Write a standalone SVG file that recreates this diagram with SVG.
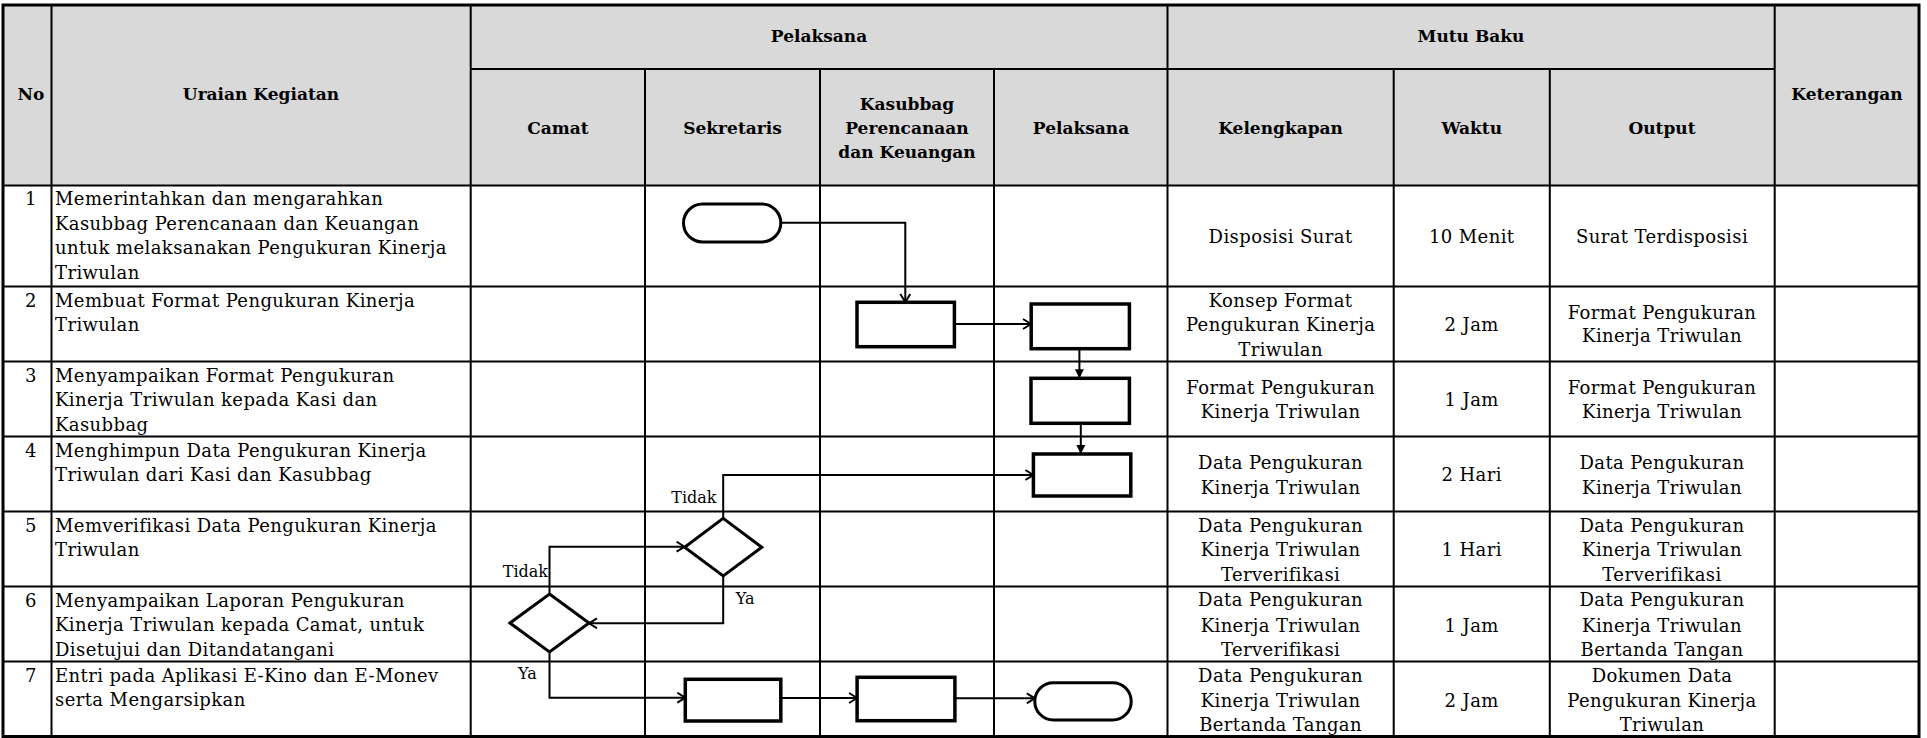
<svg xmlns="http://www.w3.org/2000/svg" width="1927" height="738" viewBox="0 0 1927 738">
<style>
.t{font-family:"DejaVu Serif","Liberation Serif",serif;font-size:18px;letter-spacing:0.4px;fill:#000}
.l{font-family:"DejaVu Serif","Liberation Serif",serif;font-size:16px;fill:#000}
.b{font-family:"DejaVu Serif","Liberation Serif",serif;font-size:17px;font-weight:bold;fill:#000}
.c{text-anchor:middle}
.g{stroke:#000;stroke-width:2;fill:none}
.o{stroke:#000;stroke-width:3;fill:none}
.s{stroke:#000;stroke-width:3;fill:#fff}
.r{stroke:#000;stroke-width:3.5;fill:#fff}
.k{stroke:#000;stroke-width:2;fill:none}
</style>
<defs>
<marker id="av" viewBox="0 0 10 12" markerWidth="10" markerHeight="12" refX="9" refY="6" orient="auto" markerUnits="userSpaceOnUse">
<path d="M1,1 L9,6 L1,11" fill="none" stroke="#000" stroke-width="2"/>
</marker>
<marker id="af" viewBox="0 0 10 10" markerWidth="9" markerHeight="10" refX="10" refY="5" orient="auto" markerUnits="userSpaceOnUse">
<path d="M0,0 L10,5 L0,10 Z" fill="#000"/>
</marker>
</defs>
<rect x="0" y="0" width="1927" height="738" fill="#fff"/>
<g id="table">
<rect x="2.5" y="5" width="1916.5" height="180.5" fill="#d9d9d9"/>
<path class="g" d="M470.7,69H1774.7M2.5,185.5H1919M2.5,286.5H1919M2.5,361.5H1919M2.5,436.5H1919M2.5,511.5H1919M2.5,586.5H1919M2.5,661.5H1919"/>
<path class="g" d="M51.5,5V736.5M470.7,5V736.5M645,69V736.5M820,69V736.5M994,69V736.5M1167.5,5V736.5M1393.7,69V736.5M1549.8,69V736.5M1774.7,5V736.5"/>
<rect class="o" x="3" y="5" width="1916" height="731.5"/>
</g>
<g id="header">
<text class="b c" x="31" y="100">No</text>
<text class="b c" x="261" y="100">Uraian Kegiatan</text>
<text class="b c" x="819" y="41.5">Pelaksana</text>
<text class="b c" x="1471" y="41.5">Mutu Baku</text>
<text class="b c" x="1847" y="100">Keterangan</text>
<text class="b c" x="558" y="134">Camat</text>
<text class="b c" x="732.5" y="134">Sekretaris</text>
<text class="b c" x="907" y="110">Kasubbag</text>
<text class="b c" x="907" y="134">Perencanaan</text>
<text class="b c" x="907" y="158">dan Keuangan</text>
<text class="b c" x="1081" y="134">Pelaksana</text>
<text class="b c" x="1280.6" y="134">Kelengkapan</text>
<text class="b c" x="1471.7" y="134">Waktu</text>
<text class="b c" x="1662" y="134">Output</text>
</g>
<g id="row1">
<text class="t c" x="31" y="205">1</text>
<text class="t" x="55" y="205">Memerintahkan dan mengarahkan</text>
<text class="t" x="55" y="229.6">Kasubbag Perencanaan dan Keuangan</text>
<text class="t" x="55" y="254.2">untuk melaksanakan Pengukuran Kinerja</text>
<text class="t" x="55" y="278.8">Triwulan</text>
<text class="t c" x="1280.6" y="242.5">Disposisi Surat</text>
<text class="t c" x="1471.7" y="242.5">10 Menit</text>
<text class="t c" x="1662" y="242.5">Surat Terdisposisi</text>
</g>
<g id="row2">
<text class="t c" x="31" y="306.5">2</text>
<text class="t" x="55" y="306.5">Membuat Format Pengukuran Kinerja</text>
<text class="t" x="55" y="331">Triwulan</text>
<text class="t c" x="1280.6" y="307">Konsep Format</text>
<text class="t c" x="1280.6" y="331">Pengukuran Kinerja</text>
<text class="t c" x="1280.6" y="355.5">Triwulan</text>
<text class="t c" x="1471.7" y="331">2 Jam</text>
<text class="t c" x="1662" y="318.5">Format Pengukuran</text>
<text class="t c" x="1662" y="342">Kinerja Triwulan</text>
</g>
<g id="row3">
<text class="t c" x="31" y="381.5">3</text>
<text class="t" x="55" y="381.5">Menyampaikan Format Pengukuran</text>
<text class="t" x="55" y="406">Kinerja Triwulan kepada Kasi dan</text>
<text class="t" x="55" y="430.5">Kasubbag</text>
<text class="t c" x="1280.6" y="394">Format Pengukuran</text>
<text class="t c" x="1280.6" y="418">Kinerja Triwulan</text>
<text class="t c" x="1471.7" y="405.5">1 Jam</text>
<text class="t c" x="1662" y="394">Format Pengukuran</text>
<text class="t c" x="1662" y="418">Kinerja Triwulan</text>
</g>
<g id="row4">
<text class="t c" x="31" y="456.5">4</text>
<text class="t" x="55" y="456.5">Menghimpun Data Pengukuran Kinerja</text>
<text class="t" x="55" y="481">Triwulan dari Kasi dan Kasubbag</text>
<text class="t c" x="1280.6" y="469">Data Pengukuran</text>
<text class="t c" x="1280.6" y="494">Kinerja Triwulan</text>
<text class="t c" x="1471.7" y="481">2 Hari</text>
<text class="t c" x="1662" y="469">Data Pengukuran</text>
<text class="t c" x="1662" y="494">Kinerja Triwulan</text>
</g>
<g id="row5">
<text class="t c" x="31" y="531.5">5</text>
<text class="t" x="55" y="531.5">Memverifikasi Data Pengukuran Kinerja</text>
<text class="t" x="55" y="556">Triwulan</text>
<text class="t c" x="1280.6" y="531.5">Data Pengukuran</text>
<text class="t c" x="1280.6" y="556">Kinerja Triwulan</text>
<text class="t c" x="1280.6" y="580.5">Terverifikasi</text>
<text class="t c" x="1471.7" y="556">1 Hari</text>
<text class="t c" x="1662" y="531.5">Data Pengukuran</text>
<text class="t c" x="1662" y="556">Kinerja Triwulan</text>
<text class="t c" x="1662" y="580.5">Terverifikasi</text>
</g>
<g id="row6">
<text class="t c" x="31" y="606.5">6</text>
<text class="t" x="55" y="606.5">Menyampaikan Laporan Pengukuran</text>
<text class="t" x="55" y="631">Kinerja Triwulan kepada Camat, untuk</text>
<text class="t" x="55" y="655.5">Disetujui dan Ditandatangani</text>
<text class="t c" x="1280.6" y="606">Data Pengukuran</text>
<text class="t c" x="1280.6" y="631.5">Kinerja Triwulan</text>
<text class="t c" x="1280.6" y="656">Terverifikasi</text>
<text class="t c" x="1471.7" y="631.5">1 Jam</text>
<text class="t c" x="1662" y="606">Data Pengukuran</text>
<text class="t c" x="1662" y="631.5">Kinerja Triwulan</text>
<text class="t c" x="1662" y="656">Bertanda Tangan</text>
</g>
<g id="row7">
<text class="t c" x="31" y="681.5">7</text>
<text class="t" x="55" y="681.5">Entri pada Aplikasi E-Kino dan E-Monev</text>
<text class="t" x="55" y="706">serta Mengarsipkan</text>
<text class="t c" x="1280.6" y="682">Data Pengukuran</text>
<text class="t c" x="1280.6" y="706.5">Kinerja Triwulan</text>
<text class="t c" x="1280.6" y="731">Bertanda Tangan</text>
<text class="t c" x="1471.7" y="706.5">2 Jam</text>
<text class="t c" x="1662" y="682">Dokumen Data</text>
<text class="t c" x="1662" y="706.5">Pengukuran Kinerja</text>
<text class="t c" x="1662" y="731">Triwulan</text>
</g>
<g id="connectors">
<path class="k" d="M780.8,222.7H905.3V302" marker-end="url(#av)"/>
<path class="k" d="M954.4,324H1031" marker-end="url(#av)"/>
<path class="k" d="M1079.4,348.7V378.3" marker-end="url(#af)"/>
<path class="k" d="M1080.8,423.3V454" marker-end="url(#af)"/>
<path class="k" d="M723.2,518.4V475H1033.4" marker-end="url(#av)"/>
<path class="k" d="M549.5,594V546.7H684.6" marker-end="url(#av)"/>
<path class="k" d="M723.2,576V623.3H589" marker-end="url(#av)"/>
<path class="k" d="M549.5,652V697.7H685.3" marker-end="url(#av)"/>
<path class="k" d="M780.8,698H857.1" marker-end="url(#av)"/>
<path class="k" d="M954.9,698.3H1034.8" marker-end="url(#av)"/>
<text class="l" x="716.5" y="503" text-anchor="end">Tidak</text>
<text class="l" x="548" y="577" text-anchor="end">Tidak</text>
<text class="l" x="735.7" y="604">Ya</text>
<text class="l" x="518" y="679">Ya</text>
</g>
<g id="start"><rect class="s" x="683.5" y="204" width="97.3" height="38" rx="19"/></g>
<g id="step2"><rect class="r" x="857" y="302.3" width="97.4" height="44.4"/></g>
<g id="step2b"><rect class="r" x="1031.2" y="304" width="98.2" height="44.7"/></g>
<g id="step3"><rect class="r" x="1031" y="378.3" width="98.4" height="45"/></g>
<g id="step4"><rect class="r" x="1033.4" y="454" width="97.4" height="42"/></g>
<g id="decision5"><polygon class="s" points="723.2,518.4 761.8,547.2 723.2,576 684.6,547.2"/></g>
<g id="decision6"><polygon class="s" points="549.5,594 589,623 549.5,652 510,623"/></g>
<g id="step7a"><rect class="r" x="685.3" y="679.3" width="95.5" height="41.7"/></g>
<g id="step7b"><rect class="r" x="857.1" y="677.3" width="97.8" height="43.4"/></g>
<g id="end"><rect class="s" x="1034.8" y="682.7" width="96.4" height="37.3" rx="18.6"/></g>
</svg>
